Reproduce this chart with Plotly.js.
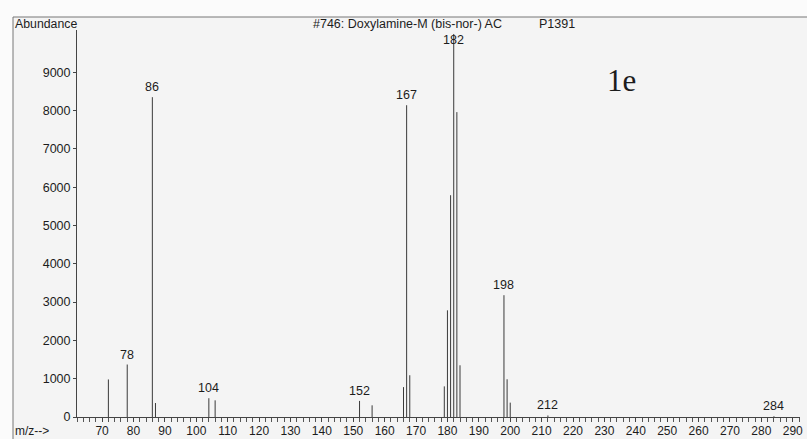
<!DOCTYPE html>
<html>
<head>
<meta charset="utf-8">
<script src="https://cdn.plot.ly/plotly-3.0.1.min.js"></script>
<style>html,body{margin:0;padding:0;background:#fbfbfb;}#chart{width:807px;height:439px;}</style>
</head>
<body>
<div id="chart"></div>
<script>
// m/z values of the peaks
var mz = [72, 78, 86, 87, 104, 106, 152, 156, 166, 167, 168, 179, 180, 181, 182, 183, 184, 198, 199, 200, 212, 284];
// abundance of each peak
var abundance = [980, 1370, 8350, 365, 490, 435, 420, 305, 780, 8140, 1090, 800, 2785, 5790, 10000, 7960, 1350, 3180, 985, 375, 40, 20];
// peaks that carry a text label
var labelledPeaks = [78, 86, 104, 152, 167, 182, 198, 212, 284];
var yTicks = [0, 1000, 2000, 3000, 4000, 5000, 6000, 7000, 8000, 9000];
var xTicks = [70, 80, 90, 100, 110, 120, 130, 140, 150, 160, 170, 180, 190, 200, 210, 220, 230, 240, 250, 260, 270, 280, 290];
var titleText = "#746: Doxylamine-M (bis-nor-) AC";
var codeText = "P1391";
var panelText = "1e";

var sx = [], sy = [];
for (var i = 0; i < mz.length; i++) {
  sx.push(mz[i], mz[i], null);
  sy.push(0, abundance[i], null);
}

var font = "Liberation Sans, Arial, sans-serif";
var txt = "#1c1c1c";

var annotations = [];
labelledPeaks.forEach(function (m) {
  var idx = mz.indexOf(m);
  annotations.push({
    x: m, y: abundance[idx], xref: 'x', yref: 'y',
    text: String(m), showarrow: false, xanchor: 'center', yanchor: 'bottom',
    yshift: (m === 182 ? -15 : 1),
    font: {family: font, size: 12.5, color: txt}
  });
});
annotations.push({xref: 'paper', yref: 'paper', x: (13 - 77) / 723, y: (417 - 24) / 387,
  xanchor: 'left', yanchor: 'middle', text: 'Abundance', showarrow: false,
  font: {family: font, size: 12.3, color: txt}});
annotations.push({xref: 'paper', yref: 'paper', x: (311 - 77) / 723, y: (417 - 24) / 387,
  xanchor: 'left', yanchor: 'middle', text: titleText, showarrow: false,
  font: {family: font, size: 12.5, color: txt}});
annotations.push({xref: 'paper', yref: 'paper', x: (537 - 77) / 723, y: (417 - 24) / 387,
  xanchor: 'left', yanchor: 'middle', text: codeText, showarrow: false,
  font: {family: font, size: 12.5, color: txt}});
annotations.push({xref: 'paper', yref: 'paper', x: (621 - 77) / 723, y: (417 - 80) / 387,
  xanchor: 'center', yanchor: 'middle', text: panelText, showarrow: false,
  font: {family: 'Liberation Serif, Times New Roman, serif', size: 31, color: txt}});
annotations.push({xref: 'paper', yref: 'paper', x: (13 - 77) / 723, y: (417 - 431) / 387,
  xanchor: 'left', yanchor: 'middle', text: 'm/z-->', showarrow: false,
  font: {family: font, size: 12, color: txt}});

var data = [{
  x: sx, y: sy, type: 'scatter', mode: 'lines',
  line: {color: '#3a3a3a', width: 1}, hoverinfo: 'skip', showlegend: false
}];

var layout = {
  width: 807, height: 439,
  margin: {l: 77, r: 7, t: 30, b: 22, pad: 0},
  paper_bgcolor: '#fbfbfb', plot_bgcolor: 'rgba(0,0,0,0)',
  showlegend: false,
  xaxis: {
    range: [62, 292.3], tickvals: xTicks, ticktext: xTicks.map(String),
    ticks: 'outside', ticklen: 4, tickcolor: '#444', tickwidth: 1,
    ticklabelstandoff: -1,
    minor: {dtick: 2, tick0: 0, ticks: 'outside', ticklen: 4, tickcolor: '#555', showgrid: false},
    showline: true, linecolor: '#444', linewidth: 1,
    showgrid: false, zeroline: false,
    tickfont: {family: font, size: 12, color: txt}
  },
  yaxis: {
    range: [0, 10104], tickvals: yTicks, ticktext: yTicks.map(String),
    ticks: 'outside', ticklen: 3, tickcolor: '#444',
    showline: true, linecolor: '#444', linewidth: 1,
    showgrid: false, zeroline: false,
    tickfont: {family: font, size: 12.5, color: txt}
  },
  shapes: [{
    type: 'rect', xref: 'paper', yref: 'paper', layer: 'below',
    x0: (13 - 77) / 723, x1: 1.05, y0: -0.2, y1: (417 - 17) / 387,
    fillcolor: '#f4f4f4', line: {color: '#777', width: 1}
  }],
  annotations: annotations
};

Plotly.newPlot('chart', data, layout, {staticPlot: true, displayModeBar: false});
</script>
</body>
</html>
